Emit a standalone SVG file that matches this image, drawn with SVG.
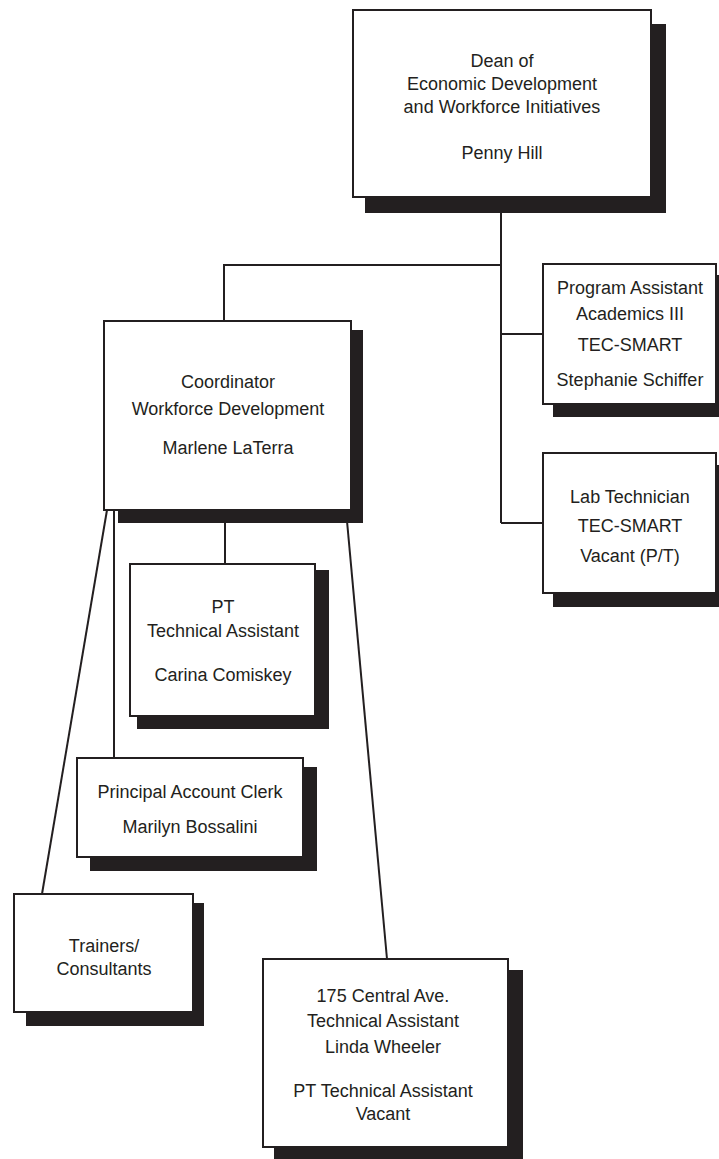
<svg xmlns="http://www.w3.org/2000/svg" width="719" height="1159" viewBox="0 0 719 1159">
  <style>
    .box { fill: #ffffff; stroke: #231f20; stroke-width: 2; }
    .shadow { fill: #231f20; }
    .link { fill: none; stroke: #231f20; stroke-width: 2; }
    text { font-family: "Liberation Sans", Arial, sans-serif; font-size: 18px; fill: #231f20; text-anchor: middle; }
  </style>
  <rect width="719" height="1159" fill="#ffffff"/>

  <!-- reporting lines -->
  <g id="connectors">
    <polyline class="link" points="501,198 501,523"/>
    <polyline class="link" points="501,265 224,265 224,321"/>
    <polyline class="link" points="501,334 543,334"/>
    <polyline class="link" points="501,523 543,523"/>
    <polyline class="link" points="225,510 225,564"/>
    <polyline class="link" points="114,510 114,758"/>
    <line class="link" x1="107" y1="510" x2="42" y2="894"/>
    <line class="link" x1="346" y1="510" x2="387" y2="959"/>
  </g>

  <g id="dean">
    <rect class="shadow" x="365" y="24" width="301" height="189"/>
    <rect class="box" x="353" y="10" width="298" height="187"/>
    <text x="502" y="67">Dean of</text>
    <text x="502" y="90">Economic Development</text>
    <text x="502" y="113">and Workforce Initiatives</text>
    <text x="502" y="159">Penny Hill</text>
  </g>

  <g id="program-assistant">
    <rect class="shadow" x="553" y="275" width="170" height="142"/>
    <rect class="box" x="543" y="264" width="173" height="140"/>
    <text x="630" y="294">Program Assistant</text>
    <text x="630" y="320">Academics III</text>
    <text x="630" y="351">TEC-SMART</text>
    <text x="630" y="386">Stephanie Schiffer</text>
  </g>

  <g id="lab-technician">
    <rect class="shadow" x="553" y="465" width="170" height="142"/>
    <rect class="box" x="543" y="453" width="173" height="140"/>
    <text x="630" y="503">Lab Technician</text>
    <text x="630" y="532">TEC-SMART</text>
    <text x="630" y="562">Vacant (P/T)</text>
  </g>

  <g id="coordinator">
    <rect class="shadow" x="118" y="330" width="245" height="193"/>
    <rect class="box" x="104" y="321" width="247" height="189"/>
    <text x="228" y="388">Coordinator</text>
    <text x="228" y="415">Workforce Development</text>
    <text x="228" y="454">Marlene LaTerra</text>
  </g>

  <g id="pt-technical-assistant">
    <rect class="shadow" x="137" y="570" width="192" height="159"/>
    <rect class="box" x="130" y="564" width="185" height="152"/>
    <text x="223" y="613">PT</text>
    <text x="223" y="637">Technical Assistant</text>
    <text x="223" y="681">Carina Comiskey</text>
  </g>

  <g id="account-clerk">
    <rect class="shadow" x="90" y="767" width="227" height="104"/>
    <rect class="box" x="77" y="758" width="226" height="99"/>
    <text x="190" y="798">Principal Account Clerk</text>
    <text x="190" y="833">Marilyn Bossalini</text>
  </g>

  <g id="trainers">
    <rect class="shadow" x="26" y="903" width="178" height="123"/>
    <rect class="box" x="14" y="894" width="179" height="118"/>
    <text x="104" y="952">Trainers/</text>
    <text x="104" y="975">Consultants</text>
  </g>

  <g id="central-ave">
    <rect class="shadow" x="274" y="970" width="249" height="195"/>
    <rect class="box" x="263" y="959" width="245" height="188"/>
    <text x="383" y="1002">175 Central Ave.</text>
    <text x="383" y="1027">Technical Assistant</text>
    <text x="383" y="1053">Linda Wheeler</text>
    <text x="383" y="1097">PT Technical Assistant</text>
    <text x="383" y="1120">Vacant</text>
  </g>
</svg>
